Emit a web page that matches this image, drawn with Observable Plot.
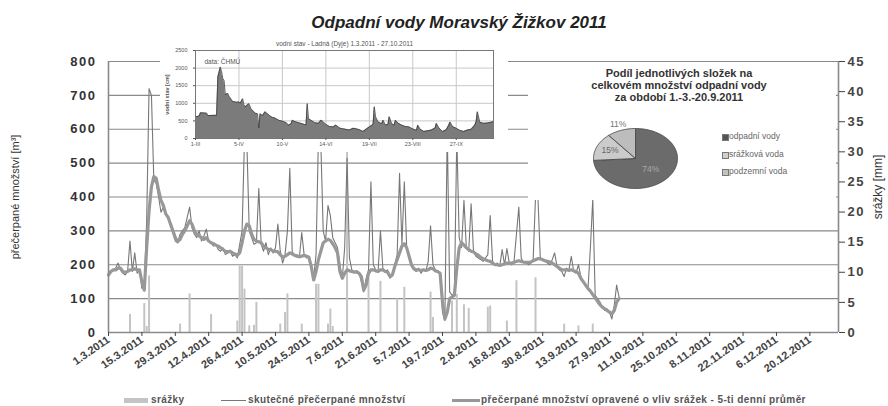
<!DOCTYPE html>
<html><head><meta charset="utf-8">
<script src="https://cdn.jsdelivr.net/npm/d3@7"></script>
<script src="https://cdn.jsdelivr.net/npm/@observablehq/plot@0.6"></script>
<style>
body{margin:0;background:#fff;font-family:"Liberation Sans",Arial,sans-serif;}
#wrap{position:relative;width:888px;height:406px;overflow:hidden;background:#fff;}
.abs{position:absolute;white-space:nowrap;}
#main g[aria-label="y-axis tick label"] text{letter-spacing:1.5px;}
.leg{font-size:10px;font-weight:bold;color:#555;letter-spacing:0.4px;line-height:12px;}
.pleg{font-size:8.5px;color:#666;line-height:10px;}
</style></head><body><div id="wrap"></div>
<script>
// ---------- DATA ----------
const title = "Odpadní vody Moravský Žižkov 2011";
const leftAxisLabel = "přečerpané množství [m³]";
const rightAxisLabel = "srážky [mm]";
const seriesNames = ["srážky", "skutečné přečerpané množství", "přečerpané množství opravené o vliv srážek - 5-ti denní průměr"];
const startDate = "2011-03-01";
// daily values from 1.3.2011
const actual = [
165,180,185,190,205,185,175,170,180,270,
180,235,175,185,130,140,330,720,700,450,
440,400,355,370,350,340,320,295,270,265,
290,300,310,340,370,310,290,280,300,270,
285,305,270,265,255,260,245,240,250,230,
235,240,225,230,220,260,300,570,560,300,
280,260,265,425,260,240,265,230,250,235,
250,320,240,205,230,300,485,240,225,230,
220,295,230,220,225,200,160,230,580,560,
300,270,375,345,280,265,250,200,160,250,
515,220,185,180,175,175,150,120,160,185,
445,200,185,180,300,190,180,185,160,170,
200,230,470,260,445,250,220,195,185,180,
190,175,185,180,210,315,200,185,180,175,
60,35,600,120,110,115,580,280,250,390,
250,240,380,240,225,220,215,210,220,230,
345,210,200,205,195,245,200,248,205,200,
210,290,370,220,205,210,200,205,215,400,
400,220,215,210,205,200,215,235,195,185,
180,165,190,185,225,180,175,200,165,150,
140,130,250,395,110,100,90,75,65,70,
60,40,80,140,105];
const corrected = [
170,180,185,185,190,190,180,178,180,185,
185,188,185,185,150,125,250,360,430,460,
455,420,390,375,350,340,320,300,280,268,
275,290,300,315,330,320,300,290,285,280,
275,280,270,265,262,258,255,250,245,240,
238,240,235,232,228,235,265,300,320,315,
290,275,270,268,265,255,250,245,245,240,
240,238,230,222,225,230,235,232,228,225,
225,225,228,225,222,195,155,180,215,240,
265,270,275,272,262,250,235,180,160,175,
185,182,180,178,180,175,165,125,140,175,
185,185,182,180,185,185,180,178,165,170,
195,215,235,255,262,250,225,200,188,185,
185,183,185,183,185,190,188,182,180,175,
90,40,60,100,105,110,190,250,265,258,
250,245,240,238,232,228,222,218,215,212,
210,205,200,200,198,200,202,205,205,205,
207,210,212,210,208,207,207,208,212,215,
218,218,215,212,210,208,205,200,195,190,
185,185,185,183,185,182,180,175,160,150,
140,130,122,112,102,92,82,75,70,65,
60,55,65,90,100];
// precipitation: day offset from 1.3.2011 and mm
const precipDay = [9,15,16,17,30,34,43,54,55,56,57,59,61,62,72,74,75,81,87,88,92,93,94,100,109,114,121,124,135,136,144,146,149,151,159,160,167,171,179,191,197,203];
const precipMm  = [3.0,4.8,1.0,9.4,1.4,6.4,3.0,1.9,11.0,11.0,7.2,1.1,1.2,5.0,1.4,3.3,6.4,1.4,8.0,8.0,1.4,3.9,1.0,33.0,9.0,8.5,5.6,7.5,6.7,2.5,5.2,6.3,4.6,4.0,4.2,4.4,1.9,8.6,9.1,1.4,1.1,1.4];
const leftTicks = [0,100,200,300,400,500,600,700,800];
const rightTicks = [0,5,10,15,20,25,30,35,40,45];
const xTickLabels = ["1.3.2011","15.3.2011","29.3.2011","12.4.2011","26.4.2011","10.5.2011","24.5.2011","7.6.2011","21.6.2011","5.7.2011","19.7.2011","2.8.2011","16.8.2011","30.8.2011","13.9.2011","27.9.2011","11.10.2011","25.10.2011","8.11.2011","22.11.2011","6.12.2011","20.12.2011"];
const xDomainLabels = ["1.3.2011","1.1.2012"];

// inset: water level Ladná (Dyje)
const insetTitle = "vodní stav - Ladná (Dyje) 1.3.2011 - 27.10.2011";
const insetSource = "data: ČHMÚ";
const insetYLabel = "vodní stav [cm]";
const insetDay = [0,3,4,9,10,17,18,20,21,22,23,24,26,27,28,30,33,35,36,38,39,40,42,43,45,46,48,50,51,52,54,56,58,60,62,64,67,70,73,75,77,78,80,83,86,89,90,91,93,96,99,101,102,105,108,111,113,116,118,121,124,127,129,132,135,138,140,143,144,145,147,150,151,153,155,156,158,160,161,163,166,169,172,175,178,179,181,184,187,190,193,194,196,199,202,204,205,207,210,213,216,219,222,225,226,227,229,232,235,238,240];
const insetLevel = [610,640,730,720,650,660,1750,2030,1900,1700,1650,1250,1280,1200,1150,1050,1030,1040,1000,1130,950,900,960,990,820,800,720,700,300,700,650,760,700,640,600,580,520,490,450,380,420,520,480,450,420,380,990,560,520,450,430,520,500,400,340,330,380,300,280,260,240,290,280,250,200,280,330,400,900,620,470,420,520,380,400,620,420,380,520,440,380,340,330,270,235,380,260,200,220,240,300,430,300,200,250,380,470,340,290,230,200,240,260,380,480,760,460,430,440,460,480];
const insetYTicks = [0,500,1000,1500,2000,2500];
const insetTickLabels = ["1-III","5-IV","10-V","14-VI","19-VII","23-VIII","27-IX"];
const insetTickDates = ["2011-03-01","2011-04-05","2011-05-10","2011-06-14","2011-07-19","2011-08-23","2011-09-27"];
const insetDomain = ["2011-03-01","2011-10-27"];

// pie
const pieTitle = ["Podíl jednotlivých složek na","celkovém množství odpadní vody","za období 1.-3.-20.9.2011"];
const pieNames = ["odpadní vody","srážková voda","podzemní voda"];
const pieShares = [74,15,11];

// ---------- HELPERS ----------
const start = new Date(startDate + "T00:00:00Z");
const dayDate = d => new Date(start.getTime() + d * 86400000);
const parseDMY = s => { const [d,m,y] = s.split(".").map(Number); return new Date(Date.UTC(y, m-1, d)); };
const isoDate = s => new Date(s + "T00:00:00Z");
const fmtDMY = d => `${d.getUTCDate()}.${d.getUTCMonth()+1}.${d.getUTCFullYear()}`;

const flow = actual.map((v, i) => ({date: dayDate(i), actual: v, corrected: corrected[i]}));
const precip = precipDay.map((d, i) => ({date: dayDate(d), mm: precipMm[i]}));
const xTicks = xTickLabels.map(parseDMY);
const xDomain = xDomainLabels.map(parseDMY);
const MM = 800 / 45; // right axis mm -> left units

const FONT = "'Liberation Sans', Arial, sans-serif";
const wrap = document.getElementById("wrap");
function place(el, left, top) { el.style.position = "absolute"; el.style.left = left + "px"; el.style.top = top + "px"; wrap.appendChild(el); return el; }

// ---------- MAIN CHART ----------
const main = Plot.plot({
  width: 888, height: 406,
  marginLeft: 108, marginRight: 50, marginTop: 61, marginBottom: 74,
  style: {fontFamily: FONT, background: "transparent", color: "#444"},
  x: {type: "utc", domain: xDomain},
  y: {domain: [0, 800]},
  marks: [
    Plot.ruleY(leftTicks.filter(v => v > 0), {stroke: "#8a8a8a", strokeWidth: 1.1}),
    Plot.ruleX(precip, {x: "date", y1: 0, y2: d => d.mm * MM, stroke: "#c4c4c4", strokeWidth: 2}),
    Plot.line(flow, {x: "date", y: "actual", stroke: "#777", strokeWidth: 1.1}),
    Plot.line(flow, {x: "date", y: "corrected", stroke: "#989898", strokeWidth: 3.2, strokeLinejoin: "round"}),
    Plot.ruleY([0], {stroke: "#8a8a8a", strokeWidth: 1.6}),
    Plot.ruleX(xDomain, {stroke: "#8a8a8a", strokeWidth: 1.6}),
    Plot.axisY(leftTicks, {anchor: "left", tickSize: 0, tickPadding: 12, fontSize: 13, fontWeight: "bold", color: "#333", label: null}),
    Plot.axisY(rightTicks.map(v => v * MM), {anchor: "right", tickSize: 6, tickPadding: 3, tickFormat: v => Math.round(v / MM), fontSize: 13, fontWeight: "bold", color: "#444", label: null}),
    Plot.axisX(xTicks, {anchor: "bottom", tickSize: 4, tickPadding: 2, tickRotate: -35, tickFormat: fmtDMY, fontSize: 11, fontWeight: "bold", color: "#444", label: null}),
    Plot.text([leftAxisLabel], {text: d => d, frameAnchor: "left", dx: -93, rotate: -90, textAnchor: "middle", fontSize: 11, fill: "#333"}),
    Plot.text([rightAxisLabel], {text: d => d, frameAnchor: "right", dx: 40, dy: -10, rotate: -90, textAnchor: "middle", fontSize: 12, fill: "#333"})
  ]
});
main.id = "main";
place(main, 0, 0);

// title
const t = document.createElement("div");
t.className = "abs";
t.textContent = title;
t.style.cssText += "font-size:17px;font-weight:bold;font-style:italic;color:#222;transform:translateX(-50%);line-height:20px;";
place(t, 459, 13);

// bottom legend
function swatch(left, top, w, h, color) { const s = document.createElement("div"); s.style.cssText = `width:${w}px;height:${h}px;background:${color};`; place(s, left, top); }
function legText(txt, left, top) { const s = document.createElement("div"); s.className = "abs leg"; s.textContent = txt; place(s, left, top); }
swatch(124, 398, 24, 5, "#c4c4c4"); legText(seriesNames[0], 151, 394);
swatch(221, 400, 25, 1.3, "#777"); legText(seriesNames[1], 248, 394);
swatch(452, 399, 28, 3, "#989898"); legText(seriesNames[2], 481, 394);

// ---------- INSET ----------
const insetData = insetDay.map((d, i) => ({date: dayDate(d), level: insetLevel[i]}));
const insetTicks = insetTickDates.map(isoDate);
const insetLabelMap = new Map(insetTicks.map((d, i) => [+d, insetTickLabels[i]]));
const inset = Plot.plot({
  width: 348, height: 119,
  marginLeft: 35, marginRight: 15, marginTop: 17, marginBottom: 14,
  style: {fontFamily: FONT, background: "#fff", color: "#555"},
  x: {type: "utc", domain: insetDomain.map(isoDate)},
  y: {domain: [0, 2500]},
  marks: [
    Plot.gridX(insetTicks, {stroke: "#c8c8c8", strokeOpacity: 1}),
    Plot.gridY(insetYTicks, {stroke: "#c8c8c8", strokeOpacity: 1}),
    Plot.areaY(insetData, {x: "date", y: "level", fill: "#7b7b7b"}),
    Plot.lineY(insetData, {x: "date", y: "level", stroke: "#3c3c3c", strokeWidth: 0.8}),
    Plot.frame({stroke: "#777"}),
    Plot.axisY(insetYTicks, {anchor: "left", tickSize: 2, tickPadding: 6, fontSize: 5.5, tickFormat: d => String(d), label: null}),
    Plot.axisX(insetTicks, {anchor: "bottom", tickSize: 2, tickPadding: 2, fontSize: 5.5, tickFormat: d => insetLabelMap.get(+d), label: null}),
    Plot.text([insetTitle], {text: d => d, frameAnchor: "top", dy: -9, fontSize: 6.5, fill: "#555"}),
    Plot.text([insetSource], {text: d => d, frameAnchor: "top-left", dx: 9, dy: 9, textAnchor: "start", fontSize: 6.5, fill: "#555"}),
    Plot.text([insetYLabel], {text: d => d, frameAnchor: "left", dx: -28, rotate: -90, textAnchor: "middle", fontSize: 5.5, fontWeight: "bold", fill: "#555"})
  ]
});
place(inset, 160, 33);

// ---------- PIE ----------
const box = document.createElement("div");
box.style.cssText = "width:308px;height:137px;background:#fff;";
place(box, 528, 63);
const pt = document.createElement("div");
pt.style.cssText = "position:absolute;left:0;top:4px;width:302px;text-align:center;font-size:11px;font-weight:bold;color:#333;line-height:12px;";
pt.innerHTML = pieTitle.join("<br>");
box.appendChild(pt);

const pieColors = ["#6b6b6b", "#cbcbcb", "#bdbdbd"];
const labelRadius = [0.5, 0.66, 1.22];
const labelColors = ["#a9a9a9", "#666", "#777"];
let acc = 0;
const slices = pieShares.map((s, i) => {
  const a0 = acc / 100 * 2 * Math.PI; acc += s; const a1 = acc / 100 * 2 * Math.PI;
  const pts = [{x: 0, y: 0}];
  const n = Math.max(2, Math.ceil((a1 - a0) / 0.02));
  for (let k = 0; k <= n; k++) { const a = a0 + (a1 - a0) * k / n; pts.push({x: Math.sin(a), y: Math.cos(a)}); }
  pts.push({x: 0, y: 0});
  const m = (a0 + a1) / 2;
  return {name: pieNames[i], share: s, pts, lx: Math.sin(m) * labelRadius[i], ly: Math.cos(m) * labelRadius[i], color: pieColors[i], lc: labelColors[i]};
});
const pie = Plot.plot({
  width: 100, height: 96,
  marginLeft: 8, marginRight: 8, marginTop: 18, marginBottom: 18,
  style: {fontFamily: FONT, background: "transparent", overflow: "visible"},
  x: {domain: [-1, 1], axis: null},
  y: {domain: [-1, 1], axis: null},
  marks: [
    ...slices.map(s => Plot.line(s.pts, {x: "x", y: "y", fill: s.color, stroke: "#4a4a4a", strokeWidth: 0.9})),
    Plot.text(slices, {x: "lx", y: "ly", text: d => d.share + "%", fill: d => d.lc, fontSize: 8.5})
  ]
});
pie.style.position = "absolute"; pie.style.left = "57px"; pie.style.top = "47px";
box.appendChild(pie);

const legSw = ["#555", "#cfcfcf", "#c2c2c2"];
pieNames.forEach((n, i) => {
  const sq = document.createElement("div");
  sq.style.cssText = `position:absolute;left:194px;top:${71 + i * 17.5}px;width:5px;height:5px;background:${legSw[i]};border:0.8px solid #777;`;
  box.appendChild(sq);
  const tx = document.createElement("div");
  tx.className = "pleg";
  tx.style.cssText += `position:absolute;left:201px;top:${68 + i * 17.5}px;white-space:nowrap;`;
  tx.textContent = n;
  box.appendChild(tx);
});
</script></body></html>
